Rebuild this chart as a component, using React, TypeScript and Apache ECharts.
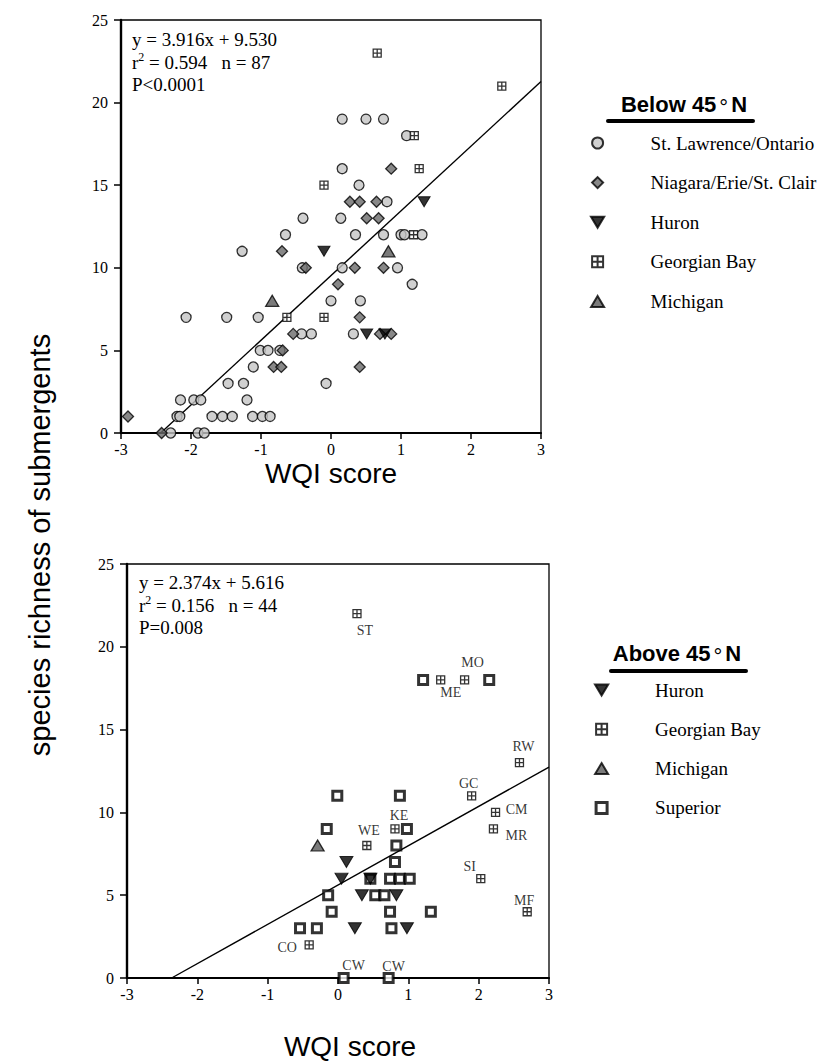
import React, { useEffect, useRef } from 'react';
import * as echarts from 'echarts';

// ---------- Below 45°N sites: [WQI score, species richness] ----------
const stLawrenceOntario: number[][] = [
  [0.16, 19], [0.5, 19], [0.75, 19],
  [1.08, 18],
  [0.16, 16],
  [0.4, 15],
  [0.8, 14],
  [-0.4, 13], [0.14, 13],
  [-0.65, 12], [0.35, 12], [0.75, 12], [1.0, 12], [1.05, 12], [1.3, 12],
  [-1.27, 11],
  [-0.41, 10], [0.16, 10], [0.95, 10],
  [1.16, 9],
  [0.0, 8], [0.42, 8],
  [-2.07, 7], [-1.49, 7], [-1.04, 7],
  [-0.42, 6], [-0.28, 6], [0.32, 6],
  [-1.01, 5], [-0.9, 5], [-0.73, 5],
  [-1.11, 4],
  [-1.47, 3], [-1.25, 3], [-0.07, 3],
  [-2.15, 2], [-1.96, 2], [-1.86, 2], [-1.2, 2],
  [-2.2, 1], [-2.16, 1], [-1.7, 1], [-1.55, 1], [-1.41, 1], [-1.12, 1], [-0.98, 1], [-0.87, 1],
  [-2.29, 0], [-1.9, 0], [-1.81, 0],
];

const niagaraErieStClair: number[][] = [
  [0.86, 16],
  [0.27, 14], [0.41, 14], [0.65, 14],
  [0.51, 13], [0.68, 13],
  [-0.7, 11],
  [-0.36, 10], [0.34, 10], [0.75, 10],
  [0.1, 9],
  [0.41, 7],
  [-0.54, 6], [0.7, 6], [0.86, 6],
  [-0.69, 5],
  [-0.82, 4], [-0.71, 4], [0.41, 4],
  [-2.9, 1],
  [-2.42, 0],
];

const huronBelow: number[][] = [[1.33, 14], [-0.1, 11], [0.51, 6], [0.77, 6]];

const georgianBayBelow: number[][] = [
  [0.66, 23], [2.44, 21], [1.19, 18], [1.26, 16], [-0.1, 15], [1.18, 12], [-0.1, 7], [-0.63, 7],
];

const michiganBelow: number[][] = [[0.82, 11], [-0.84, 8]];

// ---------- Above 45°N sites ----------
const huronAbove: number[][] = [
  [0.12, 7], [0.05, 6], [0.46, 6], [0.34, 5], [0.83, 5], [0.24, 3], [0.98, 3],
];

const georgianBayAbove: number[][] = [
  [0.27, 22], [1.46, 18], [1.8, 18], [2.58, 13], [1.9, 11], [2.24, 10],
  [2.21, 9], [0.81, 9], [0.41, 8], [2.03, 6], [2.69, 4], [-0.41, 2],
];
const georgianBayAboveSites: string[] = [
  'ST', 'ME', 'MO', 'RW', 'GC', 'CM', 'MR', 'KE', 'WE', 'SI', 'MF', 'CO',
];

const michiganAbove: number[][] = [[-0.29, 8]];

const superiorAbove: number[][] = [
  [1.21, 18], [2.15, 18],
  [-0.01, 11], [0.88, 11],
  [0.98, 9], [-0.16, 9],
  [0.83, 8],
  [0.81, 7],
  [0.46, 6], [0.74, 6], [0.88, 6], [1.02, 6],
  [-0.14, 5], [0.53, 5], [0.66, 5],
  [-0.09, 4], [0.74, 4], [1.32, 4],
  [0.76, 3], [-0.54, 3], [-0.3, 3],
  [0.08, 0], [0.72, 0],
];
const superiorAboveSites: string[] = [
  '', '', '', '', '', '', '', '', '', '', '', '', '', '', '', '', '', '', '', '', '', 'CW', 'CW',
];

// ---------- regression fits ----------
const belowSlope = 3.916;
const belowIntercept = 9.53;
const belowStats = ['y = 3.916x + 9.530', '0.594', '87', 'P<0.0001'];
const aboveSlope = 2.374;
const aboveIntercept = 5.616;
const aboveStats = ['y = 2.374x + 5.616', '0.156', '44', 'P=0.008'];

// ---------- axes ----------
const xMin = -3;
const xMax = 3;
const xStep = 1;
const yMin = 0;
const yMax = 25;
const yStep = 5;

// label placement around the site marks (pixel offsets from the mark centre)
const siteLabelOffset: Record<string, number[]> = {
  ST: [8, 17], ME: [10, 13], MO: [8, -17], RW: [4, -16], GC: [-3, -12], CM: [21, -3],
  MR: [23, 7], KE: [4, -13], WE: [2, -15], SI: [-11, -12], MF: [-3, -11], CO: [-22, 3],
};
const cwOffsets = [[10, -13], [5, -12]];

const SERIF = 'Liberation Serif';
const SANS = 'Liberation Sans';

// marker outlines (path symbols keep their proportions in the legends)
const GB_SYMBOL = 'path://M0,0H10V10H0Z M5,0V10 M0,5H10';
const DOWN_TRIANGLE = 'path://M0,0L12,0L6,10Z';
const UP_TRIANGLE = 'path://M6.5,0L13,11L0,11Z';
const DIAMOND = 'path://M6,0L12,6L6,12L0,6Z';
const SQUARE = 'path://M0,0H10V10H0Z';

function fitLine(slope: number, intercept: number): number[][] {
  const xStart = -intercept / slope;
  return [[xStart, 0], [xMax, slope * xMax + intercept]];
}

function axesFor(gridIndex: number) {
  const x = {
    gridIndex,
    type: 'value',
    min: xMin,
    max: xMax,
    interval: xStep,
    axisLine: { show: true, onZero: false, lineStyle: { color: '#000', width: 2 } },
    axisTick: { show: true, length: 6, lineStyle: { color: '#000', width: 1.5 } },
    axisLabel: { color: '#000', fontFamily: SERIF, fontSize: 16, margin: 8 },
    splitLine: { show: false },
  };
  const y = {
    gridIndex,
    type: 'value',
    min: yMin,
    max: yMax,
    interval: yStep,
    axisLine: { show: true, onZero: false, lineStyle: { color: '#000', width: 2.4 } },
    axisTick: { show: true, length: 7, lineStyle: { color: '#000', width: 1.5 } },
    axisLabel: { color: '#000', fontFamily: SERIF, fontSize: 16, margin: 13 },
    splitLine: { show: false },
  };
  return { x, y };
}

function buildOption() {
  const top = axesFor(0);
  const bottom = axesFor(1);

  const circleStyle = { color: '#c4c4c4', borderColor: '#000', borderWidth: 1.3 };
  const diamondStyle = { color: '#6a6a6a', borderColor: '#000', borderWidth: 1.3 };
  const huronStyle = { color: '#000', borderColor: '#000', borderWidth: 1 };
  const gbStyle = { color: '#fff', borderColor: '#000', borderWidth: 1.3 };
  const michiganStyle = { color: '#5a5a5a', borderColor: '#000', borderWidth: 1.3 };
  const superiorStyle = { color: '#fff', borderColor: '#000', borderWidth: 3 };

  const siteLabel = (text: string, offset: number[]) => ({
    show: true,
    formatter: text,
    position: 'inside',
    offset,
    color: '#000',
    fontFamily: SERIF,
    fontSize: 14,
    textBorderWidth: 0,
  });

  const gbAboveData = georgianBayAbove.map((p, i) => ({
    value: p,
    label: siteLabel(georgianBayAboveSites[i], siteLabelOffset[georgianBayAboveSites[i]]),
  }));
  let cwIndex = 0;
  const superiorData = superiorAbove.map((p, i) => {
    const name = superiorAboveSites[i];
    if (!name) return { value: p };
    const off = cwOffsets[cwIndex++];
    return { value: p, label: siteLabel(name, off) };
  });

  const scatterBase = { type: 'scatter', silent: true, clip: false };

  const lineSeries = (idx: number, slope: number, intercept: number) => ({
    type: 'line',
    xAxisIndex: idx,
    yAxisIndex: idx,
    data: fitLine(slope, intercept),
    symbol: 'none',
    silent: true,
    lineStyle: { color: '#000', width: 1.4 },
    z: 1,
  });

  const legendText = { color: '#000', fontFamily: SERIF, fontSize: 19, lineHeight: 20 };

  const statRich = {
    t: { fontFamily: SERIF, fontSize: 19, fill: '#000' },
    s: { fontFamily: SERIF, fontSize: 12, fill: '#000', padding: [0, 0, 10, 0] },
  };
  const headerRich = {
    a: { fontFamily: SANS, fontSize: 22, fontWeight: 'bold', fill: '#000' },
    d: { fontFamily: SANS, fontSize: 22, fontWeight: 'normal', fill: '#000', padding: [6, 3, 0, 3] },
  };

  const statBlock = (x: number, y: number, stats: string[]) => [
    { type: 'text', x, y, style: { text: stats[0], fontFamily: SERIF, fontSize: 19, fill: '#000', verticalAlign: 'middle' } },
    {
      type: 'text', x, y: y + 23,
      style: { text: `{t|r}{s|2}{t| = ${stats[1]}   n = ${stats[2]}}`, rich: statRich, verticalAlign: 'middle' },
    },
    { type: 'text', x, y: y + 45, style: { text: stats[3], fontFamily: SERIF, fontSize: 19, fill: '#000', verticalAlign: 'middle' } },
  ];

  const header = (cx: number, cy: number, label: string, x1: number, x2: number, ly: number) => [
    {
      type: 'text', x: cx, y: cy,
      style: { text: `{a|${label} 45}{d|°}{a|N}`, rich: headerRich, align: 'center', verticalAlign: 'middle' },
    },
    {
      type: 'line',
      shape: { x1, y1: ly, x2, y2: ly },
      style: { stroke: '#000', lineWidth: 4, lineCap: 'round' },
    },
  ];

  return {
    animation: false,
    backgroundColor: '#fff',
    grid: [
      { left: 121, top: 20, width: 420, height: 413, show: true, borderColor: '#000', borderWidth: 1.3 },
      { left: 127, top: 564, width: 422, height: 414, show: true, borderColor: '#000', borderWidth: 1.3 },
    ],
    xAxis: [top.x, bottom.x],
    yAxis: [top.y, bottom.y],
    legend: [
      {
        data: ['St. Lawrence/Ontario', 'Niagara/Erie/St. Clair', 'Huron', 'Georgian Bay', 'Michigan'],
        orient: 'vertical',
        left: 590,
        top: 133,
        padding: 0,
        itemWidth: 96,
        itemHeight: 11,
        itemGap: 19.6,
        selectedMode: false,
        textStyle: legendText,
      },
      {
        data: [
          'Huron',
          'Georgian Bay',
          'Michigan',
          { name: 'Superior', itemStyle: { borderWidth: 3 } },
        ],
        orient: 'vertical',
        left: 594,
        top: 680,
        padding: 0,
        itemWidth: 97,
        itemHeight: 11,
        itemGap: 19.3,
        selectedMode: false,
        textStyle: legendText,
      },
    ],
    series: [
      lineSeries(0, belowSlope, belowIntercept),
      lineSeries(1, aboveSlope, aboveIntercept),
      // below 45°N
      { ...scatterBase, name: 'St. Lawrence/Ontario', xAxisIndex: 0, yAxisIndex: 0, data: stLawrenceOntario, symbol: 'circle', symbolSize: 10, itemStyle: circleStyle },
      { ...scatterBase, name: 'Niagara/Erie/St. Clair', xAxisIndex: 0, yAxisIndex: 0, data: niagaraErieStClair, symbol: DIAMOND, symbolSize: 11, itemStyle: diamondStyle },
      { ...scatterBase, name: 'Michigan', xAxisIndex: 0, yAxisIndex: 0, data: michiganBelow, symbol: UP_TRIANGLE, symbolSize: [13, 11], itemStyle: michiganStyle },
      { ...scatterBase, name: 'Huron', xAxisIndex: 0, yAxisIndex: 0, data: huronBelow, symbol: DOWN_TRIANGLE, symbolSize: [12, 10], itemStyle: huronStyle },
      { ...scatterBase, name: 'Georgian Bay', xAxisIndex: 0, yAxisIndex: 0, data: georgianBayBelow, symbol: GB_SYMBOL, symbolSize: 8, itemStyle: gbStyle },
      // above 45°N
      { ...scatterBase, name: 'Superior', xAxisIndex: 1, yAxisIndex: 1, data: superiorData, symbol: SQUARE, symbolSize: 9, itemStyle: superiorStyle },
      { ...scatterBase, name: 'Georgian Bay', xAxisIndex: 1, yAxisIndex: 1, data: gbAboveData, symbol: GB_SYMBOL, symbolSize: 8, itemStyle: gbStyle },
      { ...scatterBase, name: 'Michigan', xAxisIndex: 1, yAxisIndex: 1, data: michiganAbove, symbol: UP_TRIANGLE, symbolSize: [13, 11], itemStyle: michiganStyle },
      { ...scatterBase, name: 'Huron', xAxisIndex: 1, yAxisIndex: 1, data: huronAbove, symbol: DOWN_TRIANGLE, symbolSize: [13, 11], itemStyle: huronStyle },
    ],
    graphic: [
      ...statBlock(132, 39, belowStats),
      ...statBlock(139, 582, aboveStats),
      ...header(684, 104, 'Below', 608, 753, 121),
      ...header(677, 653, 'Above', 611, 746, 671),
      {
        type: 'text', x: 40, y: 545, rotation: Math.PI / 2,
        style: { text: 'species richness of submergents', fontFamily: SANS, fontSize: 29, fill: '#000', align: 'center', verticalAlign: 'middle' },
      },
      {
        type: 'text', x: 331, y: 473,
        style: { text: 'WQI score', fontFamily: SANS, fontSize: 28, fill: '#000', align: 'center', verticalAlign: 'middle' },
      },
      {
        type: 'text', x: 350, y: 1046,
        style: { text: 'WQI score', fontFamily: SANS, fontSize: 28, fill: '#000', align: 'center', verticalAlign: 'middle' },
      },
    ],
  };
}

export default function App() {
  const ref = useRef<HTMLDivElement>(null);
  useEffect(() => {
    document.body.style.margin = '0';
    const chart = echarts.init(ref.current as HTMLDivElement, undefined, { renderer: 'svg' });
    chart.setOption(buildOption() as any);
    return () => chart.dispose();
  }, []);
  return <div ref={ref} style={{ width: 822, height: 1061 }} />;
}
